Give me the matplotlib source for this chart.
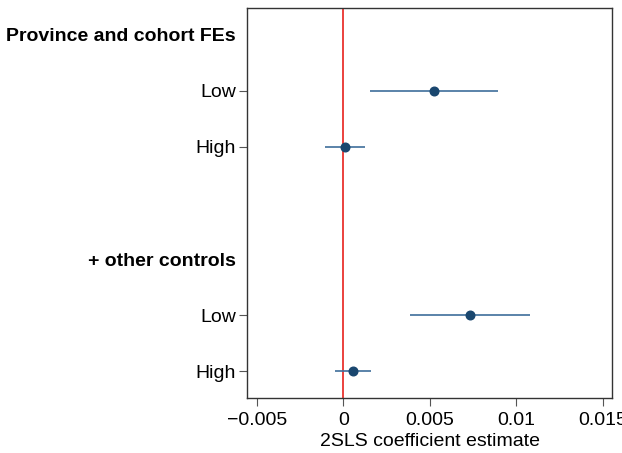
import matplotlib
matplotlib.use("Agg")
import matplotlib.pyplot as plt

plt.rcParams['font.family'] = ['Liberation Sans', 'DejaVu Sans']

row_labels = ["Province and cohort FEs", "Low", "High", "", "+ other controls", "Low", "High"]
header_rows = [0, 4]
est_rows = [1, 2, 5, 6]
estimates = [0.00523, 0.00009, 0.00732, 0.00054]
ci_low = [0.00152, -0.00104, 0.00386, -0.00050]
ci_high = [0.00892, 0.00127, 0.01078, 0.00158]
xticks = [-0.005, 0, 0.005, 0.01, 0.015]
xtick_labels = ["\u22120.005", "0", "0.005", "0.01", "0.015"]

fig = plt.figure(figsize=(6.22, 4.53), dpi=100)
ax = fig.add_axes([247/622, 1-398/453, (612-247)/622, (398-8)/453])

ax.axvline(0, color="#e8211c", lw=1.2, zorder=1)
ax.hlines(est_rows, ci_low, ci_high, color="#3e6e9b", lw=1.2, zorder=2)
ax.plot(estimates, est_rows, "o", color="#1a476f", ms=6.2, zorder=3)

ax.set_xlim(-0.00558, 0.01554)
ax.set_ylim(6.48, -0.48)
ax.set_xticks(xticks)
ax.set_xticklabels(xtick_labels, fontsize=14)
ax.set_yticks(range(len(row_labels)))
ax.set_yticklabels(row_labels, fontsize=14)
for r, t in enumerate(ax.get_yticklabels()):
    if r in header_rows:
        t.set_fontweight("bold")
for r, tk in enumerate(ax.yaxis.get_major_ticks()):
    if r in header_rows or row_labels[r] == "":
        tk.tick1line.set_visible(False)
ax.tick_params(axis="y", length=6, width=0.8, color="#555555", labelcolor="black", pad=2)
ax.tick_params(axis="x", length=6, width=0.8, color="#555555", labelcolor="black", pad=4)
ax.set_xlabel("2SLS coefficient estimate", fontsize=14, labelpad=3)
for s in ax.spines.values():
    s.set_color("#333333")
    s.set_linewidth(1.0)

fig.savefig("out.png", dpi=100)
